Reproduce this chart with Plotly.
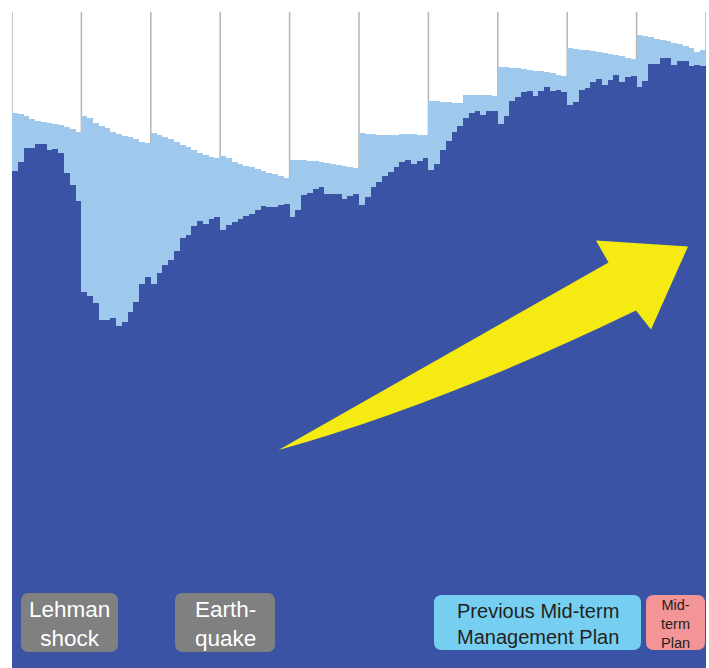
import plotly.graph_objects as go

# Fiscal years shown, twelve monthly bars each
fiscal_years = [2008, 2009, 2010, 2011, 2012, 2013, 2014, 2015, 2016, 2017]
months_per_year = 12

# Monthly orders (dark bars), index units
orders = [
    497, 506.3, 520.3, 520.3, 524.3, 524.3, 518, 519, 515, 495, 483, 467.5,
    376.3, 372.5, 365, 348, 348, 349.7, 342.3, 346.3, 356.5, 366.5, 384, 391,
    384, 394.7, 403, 408, 417.3, 430, 433, 442, 447, 444, 448.7, 451.3,
    438, 443, 446.5, 449.5, 452.5, 454, 458, 462.5, 461, 461.5, 463.5, 464.5,
    450.7, 458.5, 473, 474.7, 479.5, 481, 474, 474.5, 474, 469, 472, 474.5,
    463, 471, 481, 486, 492, 496, 501, 506, 508.5, 504, 507.5, 510,
    498, 504, 518, 527, 536.5, 542.5, 550.5, 554.7, 557.5, 553.5, 557, 557,
    544.5, 552.2, 567, 571, 575.7, 577, 572, 576.8, 581.3, 577.3, 578, 576.5,
    563.5, 566.3, 578, 580.5, 586.5, 589.5, 583, 588, 592.7, 586.3, 590.7, 592,
    581.3, 587.3, 603.7, 603.7, 609.7, 609.7, 603, 607.3, 607.3, 602.3, 603, 602.3,
]

# Monthly plan level (light bars), index units
plan = [
    554.7, 553.7, 552, 548.7, 547, 545.7, 544.7, 544, 543, 541.3, 538.7, 536.3,
    552.3, 549.7, 545.3, 542, 539.7, 536.3, 534, 532, 531.3, 528.7, 526.3, 524.7,
    534.7, 533, 531.3, 528.7, 526.3, 523, 521.3, 518, 515.3, 513, 511.3, 509.7,
    512, 509.7, 506.3, 504.5, 502.5, 501, 499.5, 497.5, 495.3, 494, 492, 489.7,
    508.5, 508.3, 508, 507.5, 507, 506, 505, 504, 503, 502, 501.3, 500.5,
    534.7, 534.3, 534, 533.3, 533, 533, 533.3, 533.7, 534, 533.7, 533.3, 532.7,
    567.3, 567, 566.3, 565.7, 565.3, 565.3, 572.7, 573, 573.3, 573, 572.7, 572.3,
    601.5, 601, 600.3, 599.7, 599, 598.3, 597.5, 596.7, 595.7, 594.7, 593.5, 592.3,
    619.7, 619, 618.3, 617.7, 617, 616.3, 615.3, 614, 613, 611.7, 610.3, 609,
    633, 632, 630.7, 629.3, 628, 626.7, 625.3, 623.7, 622, 620, 616.5, 618.5,
]

# Event and plan labels
label_texts = ["Lehman<br>shock", "Earth-<br>quake",
               "Previous Mid-term<br>Management Plan", "Mid-<br>term<br>Plan"]

W, H = 709, 668
ML, MR, MT, MB = 12, 3, 12, 0
PW, PH = W - ML - MR, H - MT - MB
Y_TOP = 656

DARK = "#3A53A4"
LIGHT = "#9EC9EC"
GRID = "#B5B5B5"

month_idx = list(range(len(orders)))


def px_to_paper(px, py):
    return (px - ML) / PW, (H - MB - py) / PH


def rounded_box(x0, y0, x1, y1, r):
    # rounded rectangle path in paper units, from pixel layout positions
    ax0, ay1 = px_to_paper(x0, y0)
    ax1, ay0 = px_to_paper(x1, y1)
    rx, ry = r / PW, r / PH
    return (f"M {ax0+rx},{ay0} L {ax1-rx},{ay0} Q {ax1},{ay0} {ax1},{ay0+ry} "
            f"L {ax1},{ay1-ry} Q {ax1},{ay1} {ax1-rx},{ay1} L {ax0+rx},{ay1} "
            f"Q {ax0},{ay1} {ax0},{ay1-ry} L {ax0},{ay0+ry} Q {ax0},{ay0} {ax0+rx},{ay0} Z")


fig = go.Figure()
fig.add_trace(go.Bar(x=month_idx, y=plan, width=1, marker=dict(color=LIGHT, line=dict(width=0)),
                     hoverinfo="skip", showlegend=False))
fig.add_trace(go.Bar(x=month_idx, y=orders, width=1, marker=dict(color=DARK, line=dict(width=0)),
                     hoverinfo="skip", showlegend=False))

shapes = []
# fiscal-year separators
for k in range(len(fiscal_years) + 1):
    xb = k * months_per_year - 0.5
    shapes.append(dict(type="line", xref="x", yref="paper", x0=xb, x1=xb, y0=0, y1=1,
                       line=dict(color=GRID, width=1.5), layer="below"))

# growth arrow
pts = {
    "tail": (278.5, 450), "n1": (608.5, 262.5), "b1": (596, 240.5), "tip": (688, 246.5),
    "b2": (651, 329.5), "n2": (636, 310.5), "c": (440, 405),
}
pp = {k: px_to_paper(*v) for k, v in pts.items()}
arrow_path = (f"M {pp['tail'][0]},{pp['tail'][1]} L {pp['n1'][0]},{pp['n1'][1]} "
              f"L {pp['b1'][0]},{pp['b1'][1]} L {pp['tip'][0]},{pp['tip'][1]} "
              f"L {pp['b2'][0]},{pp['b2'][1]} L {pp['n2'][0]},{pp['n2'][1]} "
              f"Q {pp['c'][0]},{pp['c'][1]} {pp['tail'][0]},{pp['tail'][1]} Z")
shapes.append(dict(type="path", xref="paper", yref="paper", path=arrow_path,
                   fillcolor="#F5EA12", line=dict(width=0), layer="above"))

boxes = [
    ((21, 593, 118, 652), "#808080", "white", 22.5),
    ((175, 593, 275, 652), "#808080", "white", 22.5),
    ((434, 595, 641, 650), "#76CFF0", "#231F20", 20),
    ((646, 595, 705, 650), "#F39497", "#231F20", 14.5),
]
annotations = []
for (x0, y0, x1, y1), fill, tcol, fs in boxes:
    shapes.append(dict(type="path", xref="paper", yref="paper",
                       path=rounded_box(x0, y0, x1, y1, 8),
                       fillcolor=fill, line=dict(width=0), layer="above"))
for ((x0, y0, x1, y1), fill, tcol, fs), txt in zip(boxes, label_texts):
    cx, cy = px_to_paper((x0 + x1) / 2, (y0 + y1) / 2 + 1)
    annotations.append(dict(xref="paper", yref="paper", x=cx, y=cy, text=txt, showarrow=False,
                            xanchor="center", yanchor="middle", align="center",
                            font=dict(family="Liberation Sans, Arial, sans-serif", size=fs, color=tcol)))

fig.update_layout(
    width=W, height=H, margin=dict(l=ML, r=MR, t=MT, b=MB),
    paper_bgcolor="white", plot_bgcolor="white",
    barmode="overlay", bargap=0,
    xaxis=dict(range=[-0.5, len(orders) - 0.5], showgrid=False, zeroline=False,
               showticklabels=False, ticks="", fixedrange=True),
    yaxis=dict(range=[0, Y_TOP], showgrid=False, zeroline=False,
               showticklabels=False, ticks="", fixedrange=True),
    shapes=shapes, annotations=annotations,
)

fig.write_html("out.html", config={"displayModeBar": False})
